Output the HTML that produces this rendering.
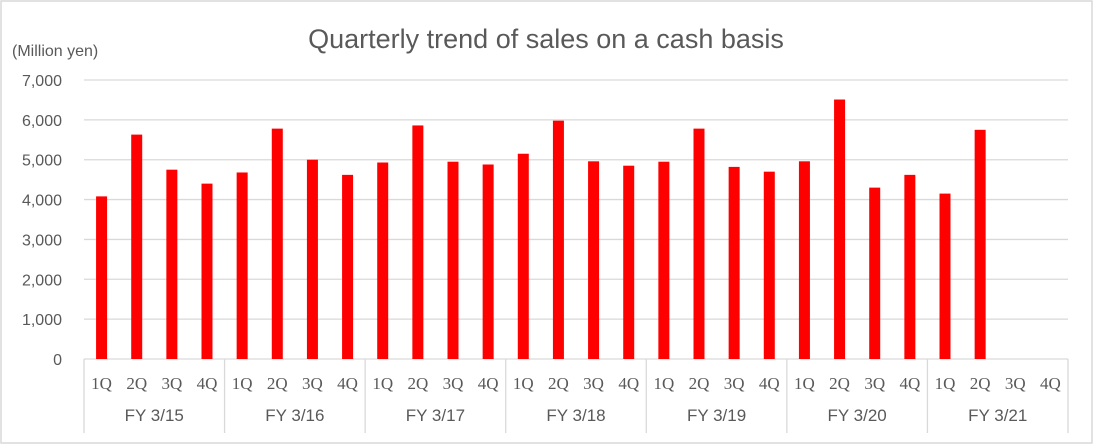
<!DOCTYPE html>
<html><head><meta charset="utf-8"><style>
body{margin:0;background:#fff}
svg{display:block;font-family:"Liberation Sans","Noto Sans CJK JP",sans-serif}
</style></head><body>
<svg id="c" width="1093" height="445">
<rect x="1" y="1" width="1091" height="442" fill="#fff" stroke="#d9d9d9" stroke-width="1.5"/>
<text x="546" y="48" text-anchor="middle" font-size="27" fill="#595959">Quarterly trend of sales on a cash basis</text>
<text x="12" y="56" font-size="16" fill="#595959">(Million yen)</text>
<g id="grid"></g><g id="bars"></g><g id="xaxis"></g>
</svg>
<script>
const groups=["FY 3/15","FY 3/16","FY 3/17","FY 3/18","FY 3/19","FY 3/20","FY 3/21"];
const quarters=["1Q","2Q","3Q","4Q"];
const sales=[4080,5630,4750,4400, 4680,5780,5000,4620, 4930,5860,4950,4880, 5150,5980,4960,4850, 4950,5780,4820,4700, 4960,6510,4300,4620, 4150,5750,null,null];
const yTicks=[0,1000,2000,3000,4000,5000,6000,7000];
const yTickLabels=["0","1,000","2,000","3,000","4,000","5,000","6,000","7,000"];
const NS="http://www.w3.org/2000/svg";
const x0=84,x1=1068,y0=359,y1=80,yMax=7000;
const slot=(x1-x0)/sales.length;
const y=v=>y0-(v/yMax)*(y0-y1);
const xc=i=>x0+slot*(i+0.5);
function mk(t,a,p){const e=document.createElementNS(NS,t);for(const k in a)e.setAttribute(k,a[k]);p.appendChild(e);return e;}
const grid=document.getElementById('grid'),bars=document.getElementById('bars'),xa=document.getElementById('xaxis');
yTicks.forEach((v,i)=>{
 const l=mk('line',{x1:x0,x2:x1,y1:y(v),y2:y(v),stroke:'#d9d9d9','stroke-width':1.3},grid);
 
 
 const t=mk('text',{x:62,y:y(v)+6,'text-anchor':'end','font-size':16,fill:'#595959'},grid);
 t.textContent=yTickLabels[i];
 
 
});
sales.forEach((v,i)=>{
 if(v==null)return;
 const r=mk('rect',{x:xc(i)-5.5,y:y(v),width:11,height:y0-y(v),fill:'#ff0000'},bars);
 
 
});
const gw=(x1-x0)/groups.length;
for(let g=0;g<=groups.length;g++){
 const l=mk('line',{x1:x0+g*gw,x2:x0+g*gw,y1:y0,y2:433,stroke:'#d9d9d9','stroke-width':1.3},xa);
 
 
}
sales.forEach((v,i)=>{
 const t=mk('text',{x:xc(i),y:389,'text-anchor':'middle','font-size':17,fill:'#595959','font-family':'"Liberation Serif",serif'},xa);
 t.textContent=quarters[i%4];
 
 
});
groups.forEach((gname,g)=>{
 const t=mk('text',{x:x0+gw*(g+0.5),y:421,'text-anchor':'middle','font-size':17,fill:'#595959'},xa);
 t.textContent=gname;
 
 
});
</script>
</body></html>
